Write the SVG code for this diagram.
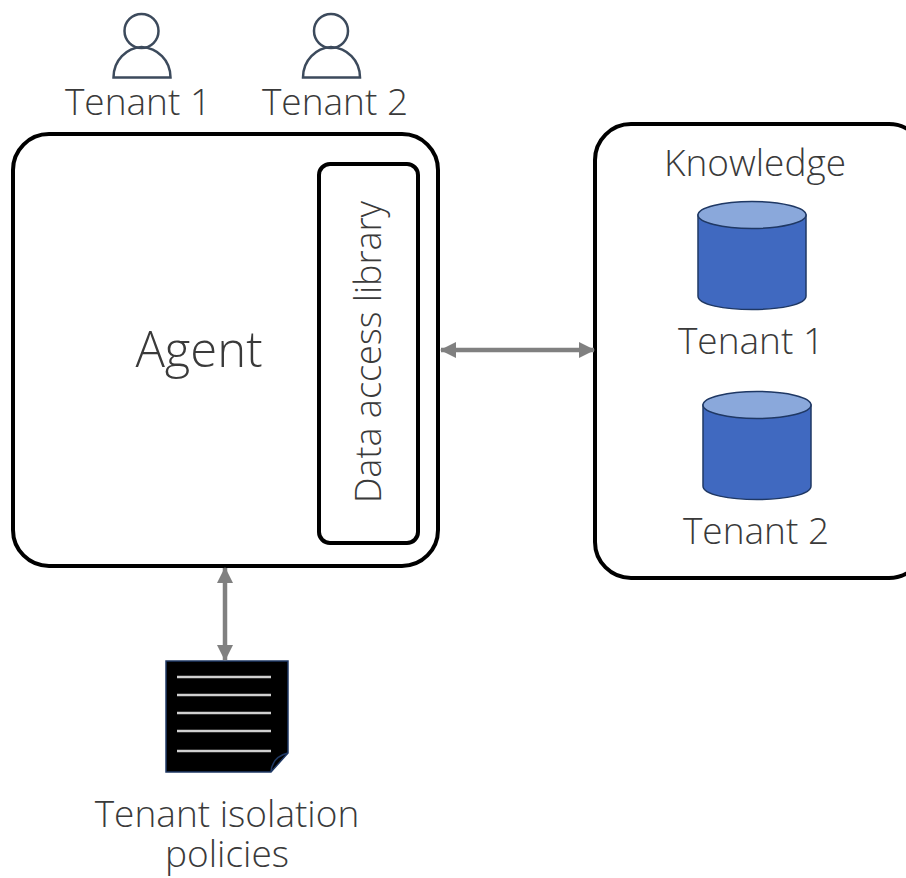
<svg xmlns="http://www.w3.org/2000/svg" width="906" height="878" viewBox="0 0 906 878">
<style>
text{font-family:"Open Sans","Noto Sans","Liberation Sans",sans-serif;fill:#3a3a3a;text-anchor:middle;font-size:37px;font-weight:300}
.box{fill:#fff;stroke:#000;stroke-width:4}
.user{fill:none;stroke:#3c4a5c;stroke-width:2.500}
.cyl{fill:#4069c0;stroke:#1f3864;stroke-width:1.500}
.top{fill:#8aa8db;stroke:#1f3864;stroke-width:1.500}
.conn{stroke:#808080;stroke-width:4.500;fill:none;marker-start:url(#a);marker-end:url(#a)}
.ln{stroke:#d0d0d0;stroke-width:2.500}
</style>
<defs>
<marker id="a" viewBox="0 0 16 16" refX="15" refY="8" markerWidth="16" markerHeight="16" markerUnits="userSpaceOnUse" orient="auto-start-reverse"><path d="M0 0L16 8L0 16z" fill="#808080"/></marker>
<g id="person"><circle cx="0" cy="31" r="17"/><path d="M-28 77.500H29C29 60 16 48 0 47C-15 48-28 60-28 77.500z"/></g>
<g id="db"><path class="cyl" d="M0 33V114C0 132 108 132 108 114V33z"/><ellipse class="top" cx="54" cy="33" rx="54" ry="13.500"/></g>
</defs>
<g id="tenant-1"><use href="#person" x="141.500" y="0" class="user"/><text x="138" y="115">Tenant 1</text></g>
<g id="tenant-2"><use href="#person" x="331" y="0" class="user"/><text x="335" y="115">Tenant 2</text></g>
<g id="agent"><rect class="box" x="13" y="134" width="425" height="432" rx="36"/><text x="199" y="367" style="font-size:49px">Agent</text></g>
<g id="data-access-library"><rect class="box" x="319" y="164" width="99" height="379" rx="11"/><text transform="translate(381 352) rotate(-90)" style="font-size:36px">Data access library</text></g>
<g id="knowledge"><rect class="box" x="595" y="124" width="330" height="454" rx="36"/><text x="755" y="176">Knowledge</text></g>
<g id="db-tenant-1"><use href="#db" x="698" y="182"/><text x="751" y="354">Tenant 1</text></g>
<g id="db-tenant-2"><use href="#db" x="703" y="372"/><text x="756" y="544">Tenant 2</text></g>
<g id="policies"><path d="M166 661H288V753L271 772H166z" fill="#000" stroke="#1f3864" stroke-width="1.500"/><path d="M271 772Q272 757 288 753" fill="none" stroke="#1f3864" stroke-width="1.500"/><path class="ln" d="M177 677H271M177 695H271M177 713H271M177 731H271M177 751H271"/><text x="227" y="827">Tenant isolation<tspan x="227" y="867">policies</tspan></text></g>
<g id="connectors"><line class="conn" x1="441" y1="350" x2="594" y2="350"/><line class="conn" x1="225" y1="568" x2="225" y2="660"/></g>
</svg>
